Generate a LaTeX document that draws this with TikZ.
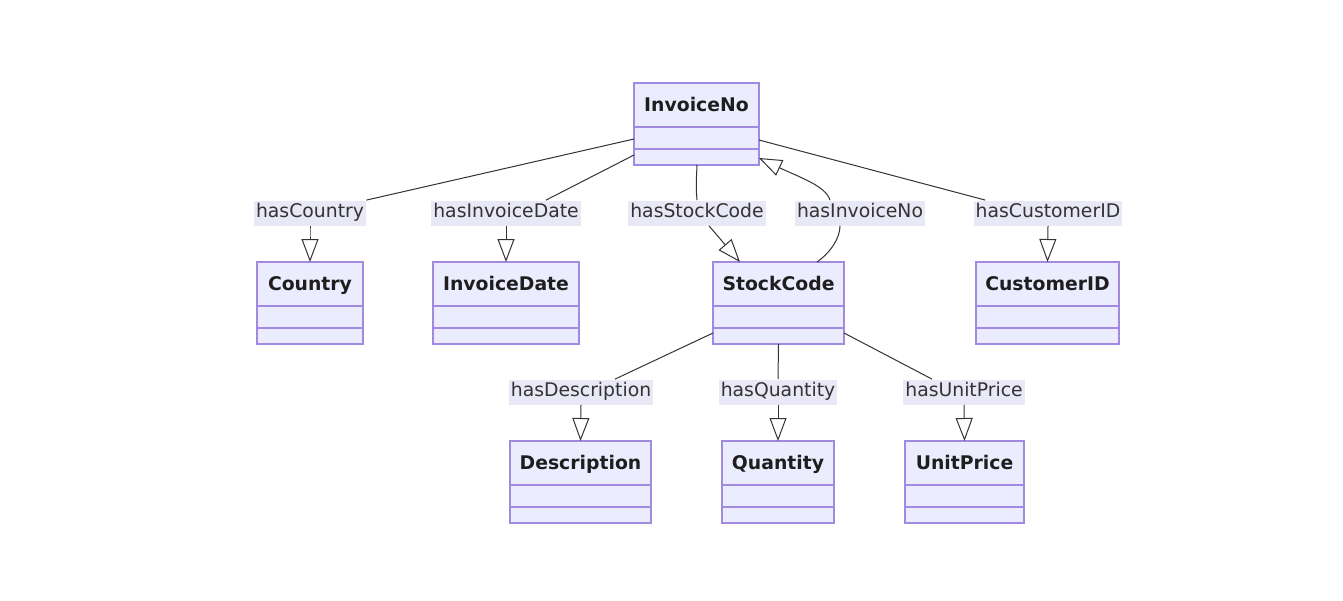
\documentclass[tikz,border=0pt]{standalone}
\usepackage{fontspec}
\setmainfont{DejaVu Sans}
\usetikzlibrary{arrows.meta,calc}
\definecolor{clsfill}{HTML}{ECECFF}
\definecolor{clsborder}{HTML}{A18AE0}
\definecolor{lblfill}{HTML}{E8E8F6}
\definecolor{txt}{HTML}{333333}
\definecolor{ttl}{HTML}{1E1E1E}
\tikzset{
  clsbox/.style={draw=clsborder, fill=clsfill, line width=0.75pt, minimum height=41pt, inner sep=0pt, outer sep=0pt, anchor=north west},
  clsline/.style={draw=clsborder, line width=0.75pt},
  clstitle/.style={font=\fontsize{9.4}{11}\selectfont\bfseries, text=ttl, inner sep=0pt, text height=7pt, text depth=2pt},
  elabel/.style={fill=lblfill, font=\fontsize{9.4}{11}\selectfont, text=txt, inner xsep=1pt, inner ysep=1.5pt, text height=7.2pt, text depth=2.3pt},
  edge/.style={draw=txt, line width=0.5pt},
  inh/.style={edge, -{Triangle[open, length=11.5pt, width=8.5pt, line width=0.5pt]}}
}
\newcommand\umlclass[5]{%
  \node[clsbox, minimum width={(#4-#2)*0.5pt}] (#1) at (#2,#3) {};
  \node[clstitle] (#1-t) at ($(#1.north)+(0,23)$) {#5};
  \draw[clsline] ($(#1.north west)+(0,44)$) -- ($(#1.north east)+(0,44)$);
  \draw[clsline] ($(#1.north west)+(0,66)$) -- ($(#1.north east)+(0,66)$);
}
\begin{document}
\begin{tikzpicture}[x=0.5pt, y=-0.5pt]
\useasboundingbox[fill=white] (0,0) rectangle (1343,600);
% classes
\umlclass{inv}{634}{83}{759}{InvoiceNo}
\umlclass{country}{257}{262}{363}{Country}
\umlclass{idate}{433}{262}{579}{InvoiceDate}
\umlclass{stock}{713}{262}{844}{StockCode}
\umlclass{cust}{976}{262}{1119}{CustomerID}
\umlclass{desc}{510}{441}{651}{Description}
\umlclass{qty}{722}{441}{834}{Quantity}
\umlclass{up}{905}{441}{1024}{UnitPrice}
% edge labels
\path node[elabel] (lc) at (310,213) {hasCountry}
      node[elabel] (lid) at (506,213) {hasInvoiceDate}
      node[elabel] (lsc) at (697,213) {hasStockCode}
      node[elabel] (lin) at (860,213) {hasInvoiceNo}
      node[elabel] (lcu) at (1048,213) {hasCustomerID}
      node[elabel] (ld) at (581,392) {hasDescription}
      node[elabel] (lq) at (778,392) {hasQuantity}
      node[elabel] (lu) at (964,392) {hasUnitPrice};
% edges
\draw[edge] ($(inv.north west)+(0,56)$) -- (lc.north east);
\draw[inh] (lc.south) .. controls ($(lc.south)+(0,6)$) and ($(country.north)+(0,-28)$) .. (country.north);
\draw[edge] ($(inv.north west)+(0,72)$) -- ($(lid.north)+(40,0)$);
\draw[inh] (lid.south) -- (idate.north);
\draw[edge] ($(inv.south west)+(63,0)$) .. controls ($(inv.south west)+(62,22)$) .. (lsc.north);
\draw[inh] ($(lsc.south)+(12,0)$) -- ($(stock.north west)+(27,0)$);
\draw[edge] ($(stock.north west)+(104,0)$) .. controls ($(stock.north west)+(118,-10)$) and ($(lin.south)+(-20,12)$) .. ($(lin.south)+(-20,0)$);
\draw[inh] ($(lin.north)+(-30,0)$) .. controls ($(lin.north)+(-34,-14)$) and ($(inv.south east)+(40,12)$) .. ($(inv.south east)+(0,-7)$);
\draw[edge] ($(inv.north east)+(0,57)$) -- ($(lcu.north west)+(12,0)$);
\draw[inh] (lcu.south) -- (cust.north);
\draw[edge] ($(stock.south west)+(0,-11)$) -- ($(ld.north)+(34,0)$);
\draw[inh] (ld.south) -- (desc.north);
\draw[edge] (stock.south) -- (lq.north);
\draw[inh] (lq.south) -- (qty.north);
\draw[edge] ($(stock.south east)+(0,-11)$) -- ($(lu.north)+(-32,0)$);
\draw[inh] (lu.south) -- (up.north);
\end{tikzpicture}
\end{document}
